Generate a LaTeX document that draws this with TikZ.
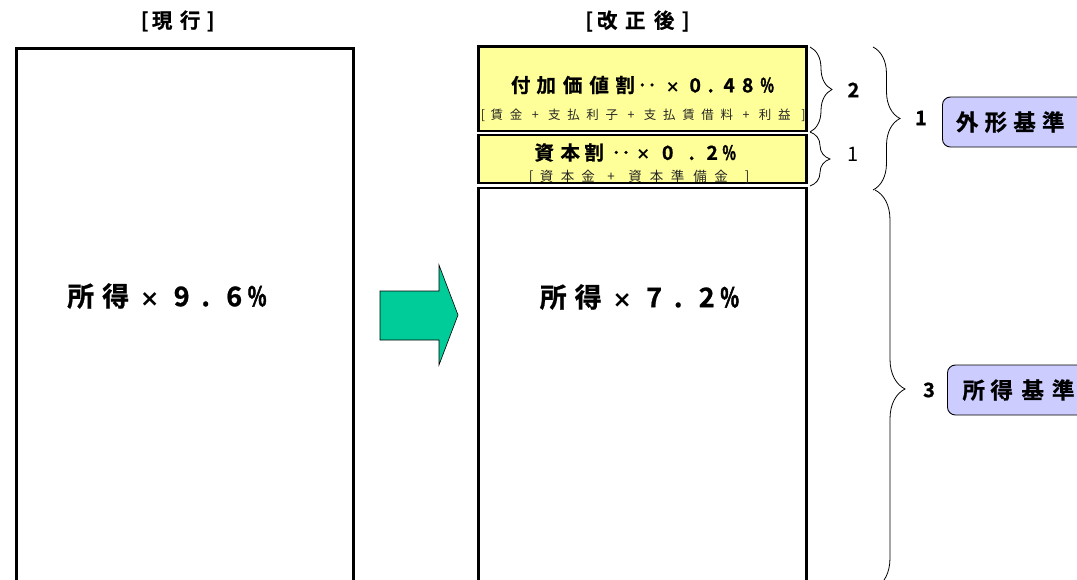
\documentclass[tikz,border=0pt]{standalone}
\usepackage{fontspec}
\usetikzlibrary{decorations.pathreplacing}
\newfontfamily\jp{Noto Sans CJK JP}[BoldFont={Noto Sans CJK JP Bold}]
\newfontfamily\dvs{DejaVu Sans}
\newcommand{\gl}[1]{\makebox[0pt][c]{#1}}
\newcommand{\gp}[1]{\hspace{#1pt}}
\newcommand{\tms}{\scalebox{0.85}{\dvs\bfseries ×}}
\newcommand{\pct}{\scalebox{0.72}[1]{\addfontfeature{FakeBold=2.2}\%}}
\newcommand{\heavy}{\addfontfeature{FakeBold=0.8}}
\definecolor{boxyellow}{HTML}{FFFF99}
\definecolor{boxlav}{HTML}{CCCCFF}
\definecolor{arrgreen}{HTML}{00CC99}
\tikzset{
  txt/.style={inner sep=0pt, anchor=west},
  heading/.style={txt, font=\jp\bfseries\fontsize{20.5}{22}\selectfont\heavy},
  mainbox/.style={draw=black, line width=2.8pt, fill=white},
  yelbox/.style={draw=black, line width=2.6pt, fill=boxyellow},
  bigtxt/.style={txt, font=\jp\bfseries\fontsize{27}{29}\selectfont\heavy},
  midtxt/.style={txt, font=\jp\bfseries\fontsize{19.5}{21}\selectfont\heavy},
  subtxt/.style={txt, font=\jp\fontsize{#1}{14}\selectfont, text=black!85},
  subtxt/.default=12.5,
  brace/.style={draw=black, line width=0.8pt, decorate, decoration={brace, amplitude=#1}},
  brace/.default=22pt,
  numbold/.style={inner sep=0pt, font=\jp\bfseries\fontsize{20}{22}\selectfont\heavy},
  numthin/.style={inner sep=0pt, font=\jp\fontsize{20}{22}\selectfont},
  tagbox/.style={draw=black, line width=0.9pt, fill=boxlav, rounded corners=8pt, inner sep=0pt, anchor=west, minimum width=170pt, minimum height=50pt},
  tagtxt/.style={txt, font=\jp\bfseries\fontsize{22.5}{24}\selectfont\heavy},
  bigarrow/.style={draw=black, line width=0.6pt, fill=arrgreen}
}
\begin{document}
\begin{tikzpicture}[x=1pt,y=-1pt]
\useasboundingbox (0,0) rectangle (1077,579);
\clip (0,0) rectangle (1077,579);
% headings
\node[heading] (h1) at (144.5,21) {\gl{[}\gp{17.5}\gl{現}\gp{28}\gl{行}\gp{20.5}\gl{]}};
\node[heading] (h2) at (589,21) {\gl{[}\gp{18}\gl{改}\gp{28}\gl{正}\gp{29}\gl{後}\gp{21.5}\gl{]}};
% left box
\draw[mainbox] (16.5,48.3) rectangle (353.5,600);
\node[bigtxt] (t1) at (80.5,296) {\gl{所}\gp{35}\gl{得}\gp{34}\gl{\tms}\gp{32}\gl{9}\gp{24}\gl{.}\gp{28.5}\gl{6}\gp{23}\gl{\pct}};
% arrow
\draw[bigarrow] (380,291) -- (439,291) -- (439,265) -- (458,315) -- (439,365) -- (439,340) -- (380,340) -- cycle;
% right boxes
\draw[mainbox] (478.5,188) rectangle (806.5,600);
\draw[yelbox] (478.5,46.5) rectangle (806.5,131.1);
\draw[yelbox] (478.5,134.9) rectangle (806.5,183);
\node[midtxt] (t2) at (520.5,85) {\gl{付}\gp{25.5}\gl{加}\gp{26.5}\gl{価}\gp{26.5}\gl{値}\gp{26}\gl{割}\gp{22}\gl{‥}\gp{25.5}\gl{\tms}\gp{22.5}\gl{0}\gp{15.5}\gl{.}\gp{18.5}\gl{4}\gp{18.5}\gl{8}\gp{19.5}\gl{\pct}};
\node[subtxt] (s2) at (482.7,115.5) {\gl{[}\gp{14}\gl{賃}\gp{19.16}\gl{金}\gp{19.16}\gl{+}\gp{19.16}\gl{支}\gp{19.16}\gl{払}\gp{19.16}\gl{利}\gp{19.16}\gl{子}\gp{19.16}\gl{+}\gp{19.16}\gl{支}\gp{19.16}\gl{払}\gp{19.16}\gl{賃}\gp{19.16}\gl{借}\gp{19.16}\gl{料}\gp{19.16}\gl{+}\gp{19.16}\gl{利}\gp{19.16}\gl{益}\gp{19.16}\gl{]}};
\node[midtxt] (t3) at (544,152.5) {\gl{資}\gp{26}\gl{本}\gp{24}\gl{割}\gp{27}\gl{‥}\gp{22}\gl{\tms}\gp{24.5}\gl{0}\gp{24}\gl{.}\gp{20.5}\gl{2}\gp{17}\gl{\pct}};
\node[subtxt=13.5] (s3) at (531,176.5) {\gl{[}\gp{15.5}\gl{資}\gp{21}\gl{本}\gp{20.5}\gl{金}\gp{23}\gl{+}\gp{24}\gl{資}\gp{21.5}\gl{本}\gp{21}\gl{準}\gp{22.5}\gl{備}\gp{21}\gl{金}\gp{26}\gl{]}};
\node[bigtxt] (t4) at (553,297) {\gl{所}\gp{35}\gl{得}\gp{34}\gl{\tms}\gp{32}\gl{7}\gp{24}\gl{.}\gp{28.5}\gl{2}\gp{23}\gl{\pct}};
% braces
\coordinate (b1a) at (810,47);
\coordinate (b1b) at (810,132);
\coordinate (b2a) at (810,132);
\coordinate (b2b) at (810,186);
\coordinate (b3a) at (873,47);
\coordinate (b3b) at (873,190);
\coordinate (b4a) at (875,190);
\coordinate (b4b) at (875,588);
\draw[brace=22pt] (b1a) -- (b1b);
\draw[brace=20pt] (b2a) -- (b2b);
\draw[brace=27pt] (b3a) -- (b3b);
\draw[brace=30pt] (b4a) -- (b4b);
\node[numbold] (n2) at (853.5,90) {2};
\node[numthin] (n1) at (853,154) {1};
\node[numbold] (n3) at (921,118) {1};
\node[numbold] (n4) at (929,390) {3};
% tags
\node[tagbox] (g1) at (942,122) {};
\node[tagtxt] (g1t) at (967,122) {\gl{外}\gp{28.7}\gl{形}\gp{28.7}\gl{基}\gp{28.7}\gl{準}};
\node[tagbox] (g2) at (947,390) {};
\node[tagtxt] (g2t) at (973.5,390) {\gl{所}\gp{28}\gl{得}\gp{31}\gl{基}\gp{30.5}\gl{準}};
\end{tikzpicture}
\end{document}
